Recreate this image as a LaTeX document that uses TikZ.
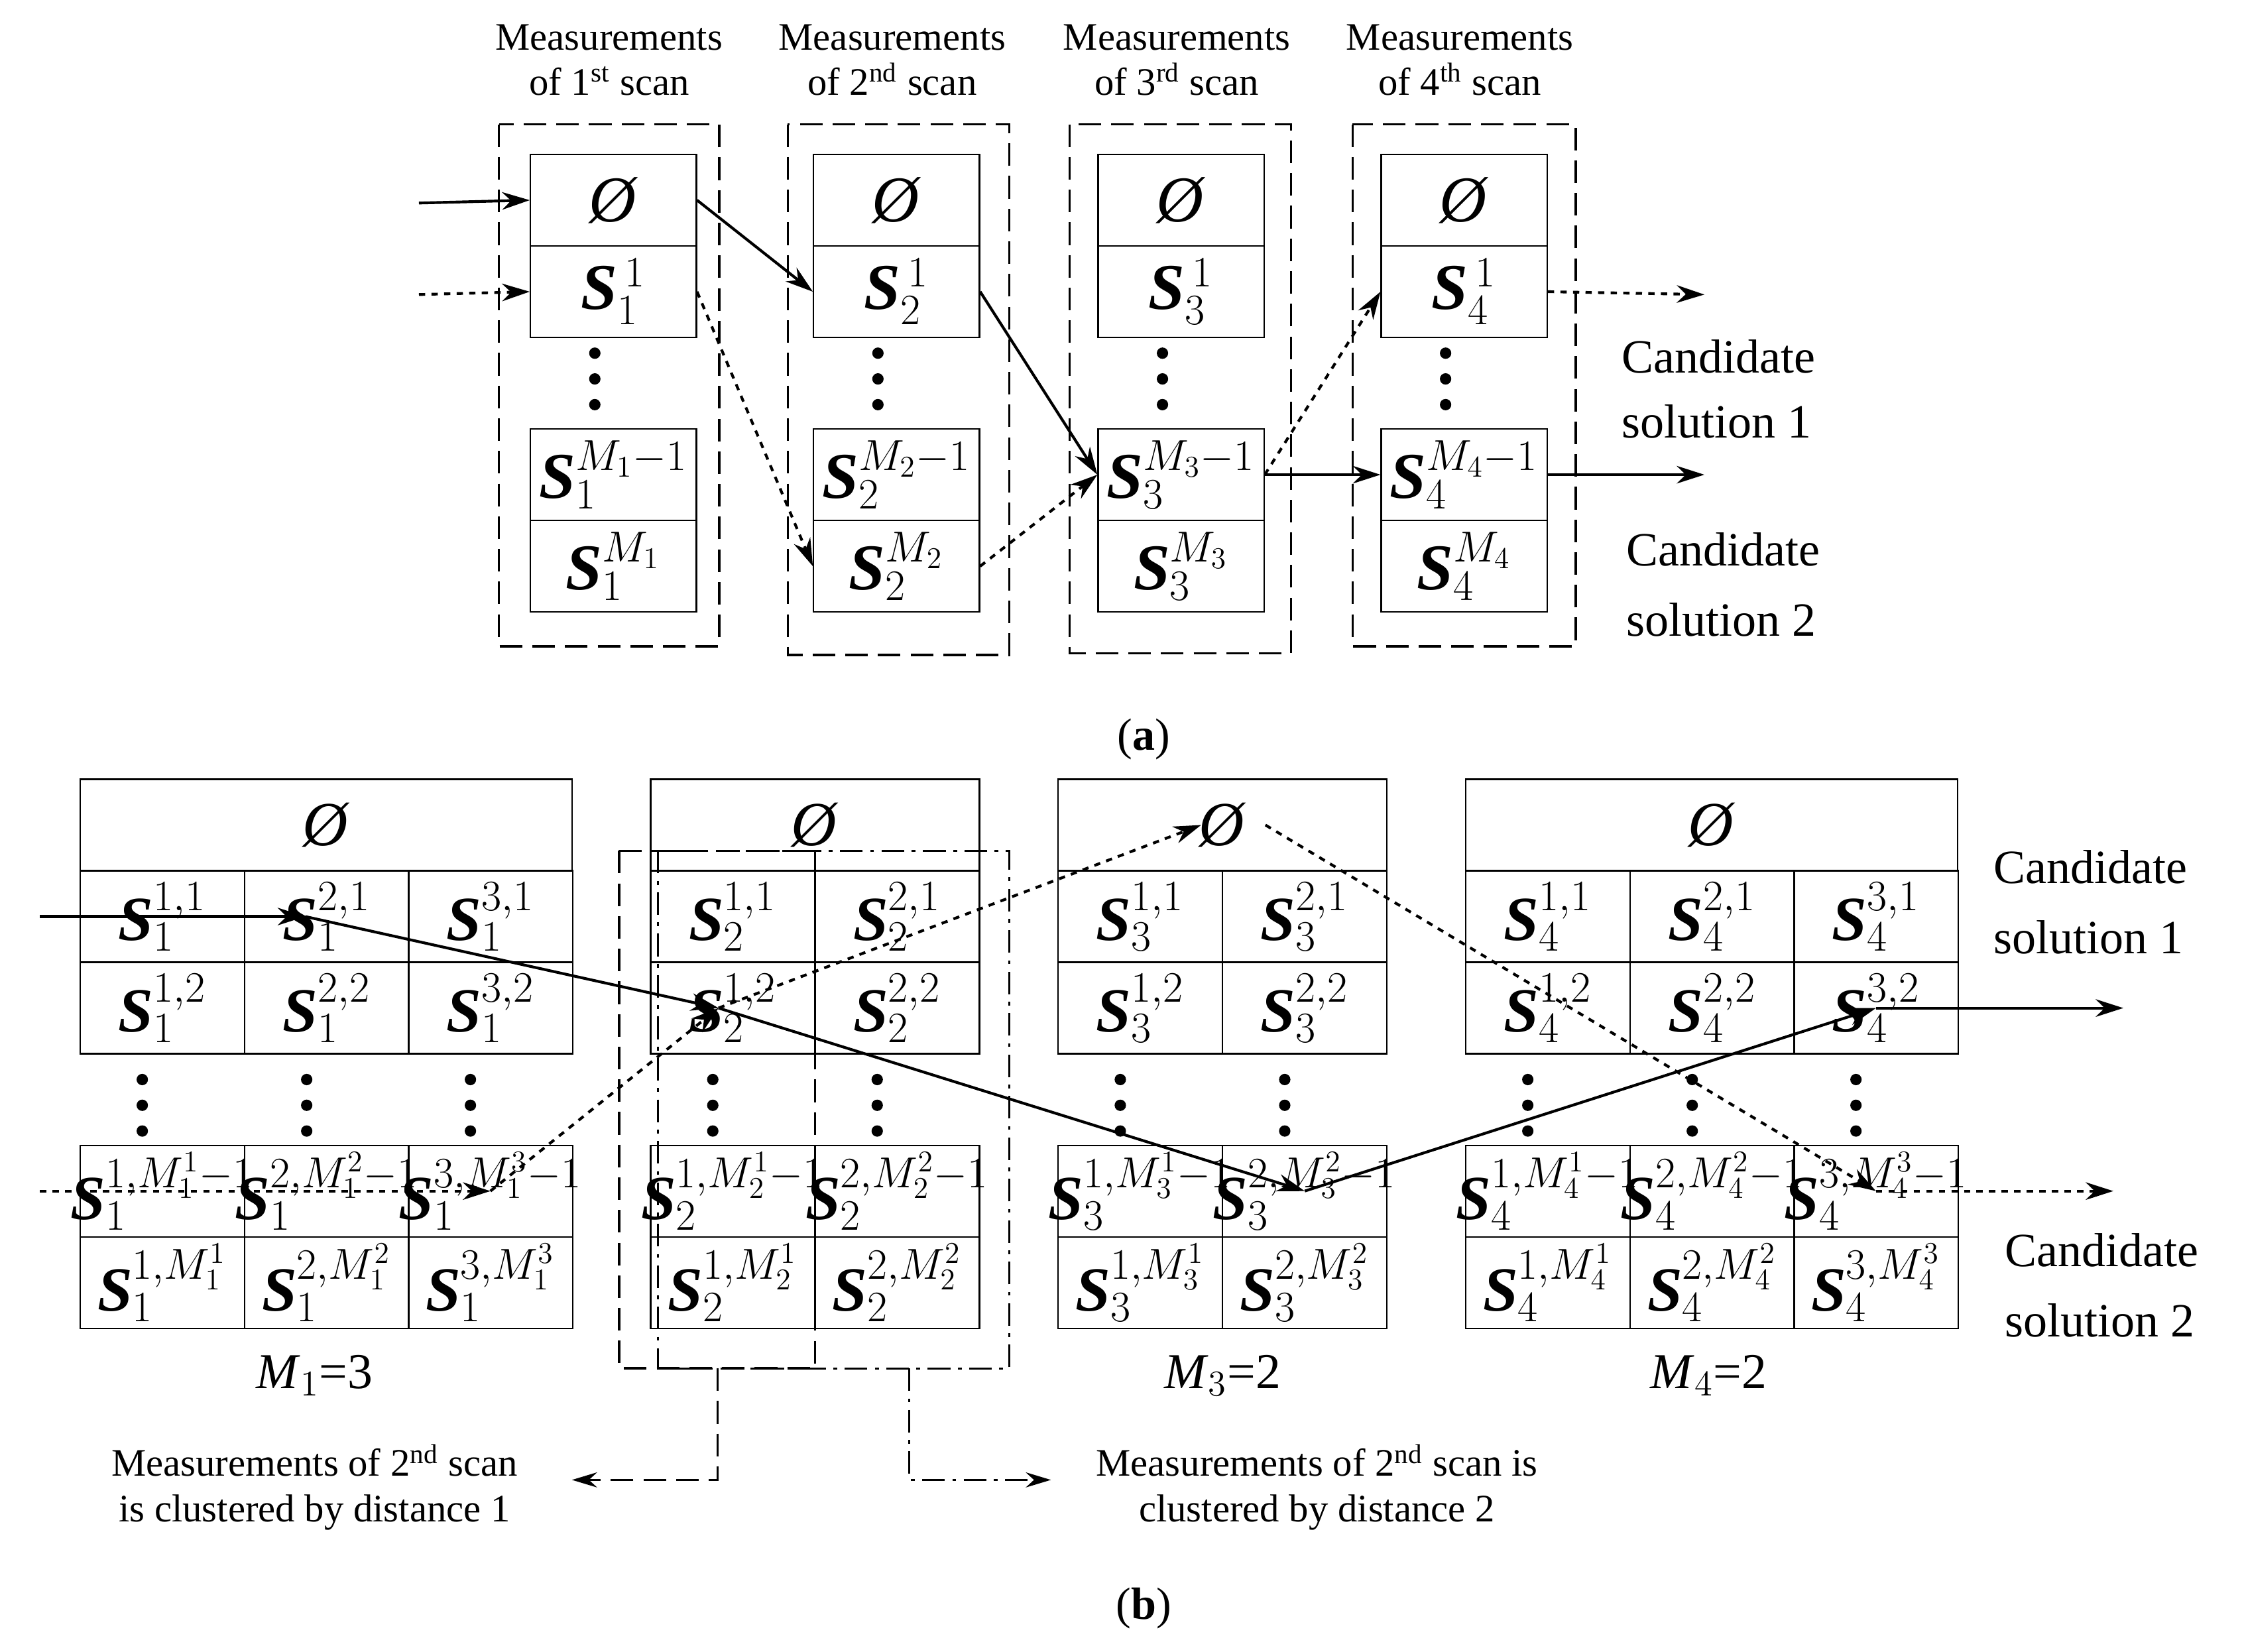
\documentclass[tikz,border=0pt]{standalone}
\usepackage{fontspec}
\setmainfont{Liberation Serif}
\usetikzlibrary{arrows.meta}
\newcommand{\Sv}[2]{\makebox[0pt]{{\bfseries\itshape S}$_{#1}^{#2}$}}
\begin{document}
\begin{tikzpicture}[x=0.02cm,y=-0.02cm,
 acell/.style={draw,line width=0.6pt,minimum width=2.32cm,minimum height=1.28cm,inner sep=0pt,font=\fontsize{26}{28}\selectfont},
 bcell/.style={draw,line width=0.6pt,minimum width=2.3cm,minimum height=1.28cm,inner sep=0pt,font=\fontsize{25}{27}\selectfont},
 hdr/.style={font=\fontsize{15.5}{18}\selectfont,align=center},
 cand/.style={font=\fontsize{19}{22}\selectfont,align=left},
 dot/.style={fill,circle,inner sep=1.6pt},
 frame/.style={dash pattern=on 9pt off 4pt,line width=0.9pt},
 dframe/.style={dash pattern=on 9pt off 3pt on 1.5pt off 3pt,line width=0.8pt},
 sol/.style={line width=1.1pt,-{Stealth[length=11pt,width=7pt]}},
 dtd/.style={line width=1.1pt,dash pattern=on 2.5pt off 2.5pt,-{Stealth[length=11pt,width=7pt]}},
 ]
\useasboundingbox (0,0) rectangle (1568,1155);
% ---------- (a)
\foreach \i/\x/\suf/\fx/\fr/\fb in {1/429/st/349/503/452,2/627/nd/551/706/458,3/826/rd/748/903/457,4/1024/th/946/1102/452}{
  \node[acell] (a\i0) at (\x,140) {\textit{Ø}};
  \node[acell] (a\i1) at (\x,204) {\Sv{\i}{\,1}};
  \node[acell] (a\i3) at (\x,332) {\Sv{\i}{M_\i-1}};
  \node[acell] (a\i4) at (\x,396) {\Sv{\i}{M_\i}};
  \foreach \yy in {247,265,283} \node[dot] at (\x-13,\yy) {};
  \draw[frame] (\fx,87) rectangle (\fr,\fb);
  \node[hdr] (h\i) at (\x-3,42) {Measurements\\of \i\textsuperscript{\suf} scan};
}
\coordinate (s0) at (293,142); \coordinate (d0) at (293,206);
\coordinate (e1) at (1192,206); \coordinate (e2) at (1192,332);
\draw[sol] (s0) -- (a10.west);
\draw[dtd] (d0) -- (a11.west);
\draw[sol] (a10.east) -- (a21.west);
\draw[dtd] (a11.east) -- (a24.west);
\draw[sol] (a21.east) -- (a33.west);
\draw[dtd] (a24.east) -- (a33.west);
\draw[dtd] (a33.east) -- (a41.west);
\draw[sol] (a33.east) -- (a43.west);
\draw[dtd] (a41.east) -- (e1);
\draw[sol] (a43.east) -- (e2);
\node[cand] at (1202,272) {Candidate\\[4pt]solution 1};
\node[cand] at (1205,409) {Candidate\\[6pt]solution 2};
\node[font=\fontsize{18}{20}\selectfont] at (800,517) {(\textbf{a})};
% ---------- (b)
\node[draw,line width=0.6pt,minimum width=6.88cm,minimum height=1.28cm,font=\fontsize{25}{27}\selectfont] (b10) at (228,577) {\textit{Ø}};
\node[draw,line width=0.6pt,minimum width=4.6cm,minimum height=1.28cm,font=\fontsize{25}{27}\selectfont] (b20) at (570,577) {\textit{Ø}};
\node[draw,line width=0.6pt,minimum width=4.6cm,minimum height=1.28cm,font=\fontsize{25}{27}\selectfont] (b30) at (855,577) {\textit{Ø}};
\node[draw,line width=0.6pt,minimum width=6.88cm,minimum height=1.28cm,font=\fontsize{25}{27}\selectfont] (b40) at (1197,577) {\textit{Ø}};
\foreach \j/\c/\x in {1/1/113.5,1/2/228.5,1/3/343,2/1/512.5,2/2/627.5,3/1/797.5,3/2/912.5,4/1/1082.5,4/2/1197.5,4/3/1312}{
  \node[bcell] (b\j\c1) at (\x,641) {\Sv{\j}{\c,1}};
  \node[bcell] (b\j\c2) at (\x,705) {\Sv{\j}{\c,2}};
  \node[bcell] (b\j\c3) at (\x,833) {\Sv{\j}{\c,M_\j^\c-1}};
  \node[bcell] (b\j\c4) at (\x,897) {\Sv{\j}{\c,M_\j^\c}};
  \foreach \yy in {755,773,791} \node[dot] at (\x-14,\yy) {};
}
\node[font=\fontsize{20}{22}\selectfont] at (220,962) {\textit{M}$_1$=3};
\node[font=\fontsize{20}{22}\selectfont] at (855,962) {\textit{M}$_3$=2};
\node[font=\fontsize{20}{22}\selectfont] at (1195,962) {\textit{M}$_4$=2};
\draw[frame] (433,595) rectangle (570,957);
\draw[dframe] (460,595) rectangle (706,957);
\node[hdr] (n1) at (220,1040) {Measurements of 2\textsuperscript{nd} scan\\is clustered by distance 1};
\node[hdr] (n2) at (921,1040) {Measurements of 2\textsuperscript{nd} scan is\\clustered by distance 2};
\coordinate (k1) at (502,957); \coordinate (k2) at (636,957);
\draw[frame,-{Stealth[length=10pt,width=6pt]}] (k1) -- (502,1035) -- (400,1035);
\draw[dframe,-{Stealth[length=10pt,width=6pt]}] (k2) -- (636,1035) -- (735,1035);
\coordinate (bs0) at (28,641); \coordinate (bd0) at (28,833);
\coordinate (be1) at (1485,705); \coordinate (be2) at (1478,833);
\draw[sol] (bs0) -- ([xshift=-0.3cm]b121.center);
\draw[sol] ([xshift=-0.3cm]b121.center) -- ([xshift=-0.2cm]b212.center);
\draw[sol] ([xshift=-0.2cm]b212.center) -- (b323.center);
\draw[sol] (b323.center) -- (b432.center);
\draw[sol] (b432.center) -- (be1);
\draw[dtd] (bd0) -- (b133.center);
\draw[dtd] (b133.center) -- ([xshift=-0.2cm]b212.center);
\draw[dtd] ([xshift=-0.2cm]b212.center) -- ([xshift=-0.3cm]b30.center);
\draw[dtd] ([xshift=0.6cm]b30.center) -- (b433.center);
\draw[dtd] (b433.center) -- (be2);
\node[cand] at (1462,631) {Candidate\\[6pt]solution 1};
\node[cand] at (1470,899) {Candidate\\[6pt]solution 2};
\node[font=\fontsize{18}{20}\selectfont] at (800,1125) {(\textbf{b})};
\end{tikzpicture}
\end{document}
